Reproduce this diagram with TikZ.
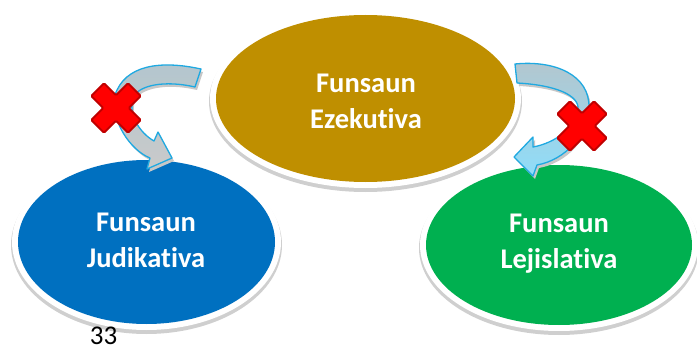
\documentclass[tikz,border=0pt]{standalone}
\usepackage{fontspec}
\setmainfont{Carlito}[Ligatures=NoCommon]
\usetikzlibrary{shapes.geometric}
\definecolor{gold}{HTML}{BF8F00}
\definecolor{bluef}{HTML}{0070C0}
\definecolor{greenf}{HTML}{00B050}
\definecolor{xred}{HTML}{FF0000}
\definecolor{xdark}{HTML}{C00000}
\definecolor{arrline}{HTML}{1FA9E1}
\definecolor{arrtop}{HTML}{B3C6CE}
\definecolor{arrgrey}{HTML}{CACACA}
\definecolor{arrcyan}{HTML}{8FDDF9}
\definecolor{ringshadow}{HTML}{CFCFCF}
\newcommand\LArrPath{(201,69) .. controls (160,60) and (125,65) .. (115,95) .. controls (110,120) and (130,150) .. (150,158) -- (147,169) -- (172,158) -- (158,132) -- (154,141) .. controls (140,133) and (128,115) .. (133,98) .. controls (138,85) and (165,80) .. (195,87) -- cycle}
\newcommand\RArrPath{(515,64) .. controls (555,60) and (590,75) .. (589,108) .. controls (588,135) and (565,160) .. (537,165) -- (533,176) -- (514,157) -- (533,137) -- (533,147) .. controls (555,143) and (575,128) .. (578,110) .. controls (580,95) and (555,85) .. (517,83) -- cycle}
\begin{document}
\begin{tikzpicture}[x=1pt,y=-1pt,
  blob/.style={ellipse, inner sep=0pt, draw=none},
  lbl/.style={text=white, font=\fontsize{28.5}{36}\selectfont\bfseries, align=center, inner sep=0pt},
  ringshade/.style={fill=ringshadow},
  ringwhite/.style={fill=white},
  arrshadow/.style={fill=black!22, draw=none},
  arrline/.style={draw=arrline, line width=1.3pt, line join=round},
  crossmark/.pic={\draw[xdark, fill=xred, line width=2pt, rounded corners=1.2pt, rotate=45]
     (9,26) -- (9,9) -- (26,9) -- (26,-9) -- (9,-9) -- (9,-26) -- (-9,-26) -- (-9,-9) -- (-26,-9) -- (-26,9) -- (-9,9) -- (-9,26) -- cycle;}
]
\useasboundingbox (0,0) rectangle (697,345);
% executive
\fill[ringshade] (365.5,101.5) ellipse [x radius=156.5pt, y radius=90.5pt];
\fill[ringwhite] (365.5,98.5) ellipse [x radius=155.5pt, y radius=89.5pt];
\node[blob, fill=gold, minimum width=299pt, minimum height=167pt] (exe) at (365.5,98.5) {};
\node[lbl] (exeT) at (366,101.5) {Funsaun\\Ezekutiva};
% judicial
\fill[ringshade] (146.5,245) ellipse [x radius=135.5pt, y radius=89pt];
\fill[ringwhite] (146.5,242) ellipse [x radius=134.5pt, y radius=88pt];
\node[blob, fill=bluef, minimum width=257pt, minimum height=164pt] (jud) at (146.5,242) {};
\node[lbl] (judT) at (146,240) {Funsaun\\Judikativa};
% legislative
\fill[ringshade] (559,248) ellipse [x radius=140pt, y radius=87pt];
\fill[ringwhite] (559,245) ellipse [x radius=139pt, y radius=86pt];
\node[blob, fill=greenf, minimum width=266pt, minimum height=160pt] (lej) at (559,245) {};
\node[lbl] (lejT) at (559,243.5) {Funsaun\\Lejislativa};
% curved arrows
\fill[arrshadow, xshift=2pt, yshift=-3pt] \LArrPath;
\path[arrline, top color=arrtop, bottom color=arrgrey, middle color=arrtop!60!arrgrey] \LArrPath;
\fill[arrshadow, xshift=2pt, yshift=-3pt] \RArrPath;
\path[arrline, top color=arrtop, bottom color=arrcyan, middle color=arrtop!50!arrcyan] \RArrPath;
% crosses
\pic (xl) at (116,108) {crossmark};
\pic (xr) at (582,126) {crossmark};
% page number
\node[anchor=base, font=\fontsize{27}{30}\selectfont, inner sep=0pt] (pg) at (103.5,344) {33};
\end{tikzpicture}
\end{document}
